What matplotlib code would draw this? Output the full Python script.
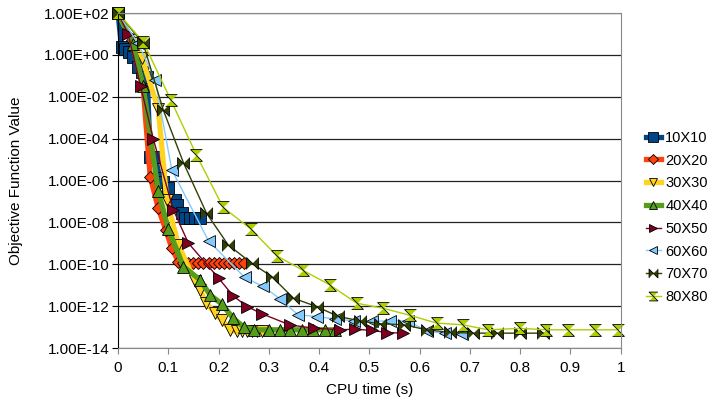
import matplotlib
matplotlib.use("Agg")
import matplotlib.pyplot as plt
from matplotlib.ticker import FixedLocator, FuncFormatter, NullLocator

plt.rcParams['font.family'] = ['Liberation Sans', 'DejaVu Sans']

# CPU time (s) and log10(objective value)
x10 = [0, 0.007, 0.014, 0.021, 0.030, 0.040, 0.047, 0.058, 0.064, 0.074, 0.083, 0.090,
       0.100, 0.113, 0.117, 0.127, 0.133, 0.143, 0.153, 0.163]
y10 = [2, 0.39, 0.27, 0.15, -0.09, -0.56, -0.80, -1.04, -4.86, -4.86, -5.89, -6.05,
       -6.37, -6.93, -7.17, -7.56, -7.80, -7.80, -7.80, -7.80]

x20 = [0, 0.027, 0.050, 0.064, 0.080, 0.095, 0.107, 0.120, 0.130, 0.140, 0.150, 0.160,
       0.170, 0.180, 0.190, 0.200, 0.210, 0.220, 0.230, 0.240, 0.250]
y20 = [2, 0.71, -1.59, -5.81, -7.32, -8.36, -9.23, -9.87, -9.93, -9.93, -9.93, -9.93,
       -9.93, -9.93, -9.93, -9.93, -9.93, -9.93, -9.93, -9.93, -9.93]

x30 = [0, 0.030, 0.048, 0.080, 0.097, 0.120, 0.153, 0.163, 0.176, 0.193, 0.206, 0.223,
       0.236, 0.246, 0.256, 0.266, 0.276, 0.286]
y30 = [2, 0.59, -0.16, -2.58, -6.93, -9.07, -10.79, -11.22, -11.86, -12.33, -12.65, -13.13,
       -13.21, -13.21, -13.21, -13.21, -13.21, -13.21]

x40 = [0, 0.030, 0.050, 0.080, 0.100, 0.130, 0.163, 0.183, 0.206, 0.229, 0.250, 0.270,
       0.300, 0.322, 0.342, 0.365, 0.388, 0.411, 0.431]
y40 = [2, 0.50, -1.50, -6.50, -8.30, -10.11, -10.74, -11.46, -11.89, -12.57, -13.00, -13.13,
       -13.13, -13.13, -13.13, -13.13, -13.13, -13.13, -13.13]

x50 = [0, 0.020, 0.045, 0.070, 0.110, 0.140, 0.200, 0.229, 0.257, 0.287, 0.342, 0.390,
       0.441, 0.471, 0.505, 0.535, 0.567]
y50 = [2, 1.00, -1.50, -4.00, -7.40, -8.99, -10.66, -11.51, -12.02, -12.37, -12.90, -13.05,
       -13.13, -13.10, -13.16, -13.26, -13.29]

x60 = [0, 0.040, 0.074, 0.107, 0.180, 0.252, 0.289, 0.322, 0.358, 0.395, 0.431, 0.469,
       0.506, 0.541, 0.577, 0.615, 0.650, 0.685]
y60 = [2, 0.55, -1.20, -5.49, -8.88, -10.63, -11.06, -11.65, -12.41, -12.50, -12.61, -12.70,
       -12.73, -12.70, -12.70, -13.21, -13.29, -13.35]

x70 = [0, 0.050, 0.090, 0.130, 0.176, 0.219, 0.266, 0.306, 0.349, 0.395, 0.438, 0.481,
       0.521, 0.569, 0.614, 0.660, 0.706, 0.753, 0.800, 0.846]
y70 = [2, 0.55, -2.63, -5.14, -7.56, -9.07, -9.95, -10.59, -11.62, -12.02, -12.49, -12.70,
       -12.84, -12.89, -13.13, -13.25, -13.29, -13.29, -13.29, -13.29]

x80 = [0, 0.050, 0.105, 0.156, 0.209, 0.264, 0.316, 0.368, 0.421, 0.475, 0.527, 0.581,
       0.634, 0.686, 0.736, 0.800, 0.852, 0.895, 0.948, 0.995]
y80 = [2, 0.63, -2.15, -4.78, -7.28, -8.31, -9.60, -10.29, -10.98, -11.86, -12.10, -12.44,
       -12.81, -12.89, -13.13, -13.06, -13.13, -13.13, -13.13, -13.13]

names = ["10X10", "20X20", "30X30", "40X40", "50X50", "60X60", "70X70", "80X80"]
xs = [x10, x20, x30, x40, x50, x60, x70, x80]
ys = [y10, y20, y30, y40, y50, y60, y70, y80]

colors = ["#004586", "#ff420e", "#ffd320", "#579d1c", "#7e0021", "#83caff", "#314004", "#aecf00"]
bowtie = [(-1, -1), (-1, 1), (1, -1), (1, 1)]
hourglass = [(-1, -1), (1, -1), (-1, 1), (1, 1)]
markers = ["s", "D", "v", "^", ">", "<", bowtie, hourglass]
msizes = [9, 6.5, 8.5, 8.5, 8.5, 8.5, 8.5, 8.5]
widths = [3.8, 3.8, 3.8, 3.8, 1.0, 1.0, 1.0, 1.0]

fig = plt.figure(figsize=(7.11, 4.08), dpi=100)
ax = fig.add_axes([0.166, 0.147, 0.707, 0.821])

for name, x, y, c, m, ms, lw in zip(names, xs, ys, colors, markers, msizes, widths):
    ax.plot(x, [10 ** v for v in y], color=c, lw=lw, marker=m, markersize=ms,
            markerfacecolor=c, markeredgecolor="black", markeredgewidth=0.6,
            label=name, clip_on=False)

ax.set_yscale("log")
ax.set_xlim(0, 1)
ax.set_ylim(1e-14, 1e2)
ax.yaxis.set_major_locator(FixedLocator([10.0 ** e for e in range(-14, 3, 2)]))
ax.yaxis.set_minor_locator(NullLocator())
ax.yaxis.set_major_formatter(FuncFormatter(lambda v, p: f"{v:.2E}"))
ax.set_xticks([i / 10 for i in range(11)])
ax.set_xticklabels(["0", "0.1", "0.2", "0.3", "0.4", "0.5", "0.6", "0.7", "0.8", "0.9", "1"])

ax.grid(True, axis="y", color="#222222", lw=0.9)
ax.set_axisbelow(True)
for s in ["top", "right", "bottom"]:
    ax.spines[s].set_color("#888888")
ax.spines["left"].set_color("black")
ax.tick_params(axis="y", length=4, color="black", labelsize=11, pad=2)
ax.tick_params(axis="x", length=4, color="#888888", labelsize=11, pad=5)

ax.set_xlabel("CPU time (s)", fontsize=11, labelpad=6)
ax.set_ylabel("Objective Function Value", fontsize=11, labelpad=15)

ax.legend(loc="center left", bbox_to_anchor=(1.032, 0.39), frameon=False, fontsize=10.5,
          handlelength=1.05, labelspacing=0.6, handletextpad=0.3, borderaxespad=0.2,
          markerscale=0.75)

fig.savefig("out.png", dpi=100)
